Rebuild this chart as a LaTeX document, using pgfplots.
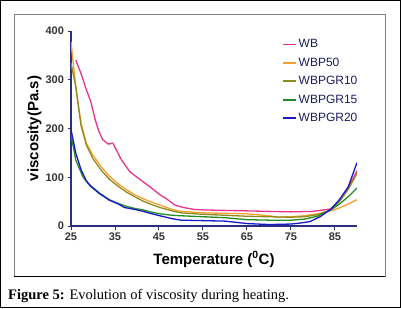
\documentclass[border=0pt]{standalone}
\usepackage{pgfplots}
\pgfplotsset{compat=1.18}
\usepackage{fontspec}
\setmainfont{Liberation Sans}
\newfontfamily\capfont{Liberation Serif}
\definecolor{axcol}{HTML}{2B2F7F}
\definecolor{tickcol}{HTML}{333333}
\definecolor{legcol}{HTML}{1B1B5E}
\definecolor{cWB}{HTML}{E8338C}
\definecolor{cP50}{HTML}{F5A030}
\definecolor{cGR10}{HTML}{8C8C1E}
\definecolor{cGR15}{HTML}{228B22}
\definecolor{cGR20}{HTML}{1818C8}
\begin{document}
\begin{tikzpicture}[x=1pt,y=1pt]
\useasboundingbox (0,0) rectangle (401,308);
\draw[black,line width=1pt] (0.5,0.5) rectangle (400.5,307.5);
\draw[gray,line width=0.8pt] (14,32) rectangle (385,294);
\draw[black,line width=0.8pt] (14,32) -- (385,32);
\node[anchor=base west,inner sep=0pt] at (8,9) {\capfont\fontsize{14.5}{14.5}\selectfont\textbf{Figure 5:} Evolution of viscosity during heating.};
\begin{axis}[
  at={(71pt,82pt)}, anchor=origin,
  scale only axis, width=286pt, height=195pt,
  xmin=25, xmax=90, ymin=0, ymax=400,
  axis x line*=bottom, axis y line*=left,
  axis line style={-, draw=axcol, line width=1.3pt},
  xtick={25,35,...,85}, ytick={0,100,...,400},
  tick style={draw=axcol, line width=1pt},
  tick align=outside, major tick length=3.5pt,
  /pgf/number format/assume math mode=true,
  ticklabel style={font=\bfseries\fontsize{11}{11}\selectfont, text=tickcol},
  xlabel={Temperature (\textsuperscript{0}C)},
  ylabel={viscosity(Pa.s)},
  label style={font=\bfseries\fontsize{15}{15}\selectfont},
  xlabel style={at={(axis description cs:0.5,0)}, anchor=north, yshift=-22pt},
  ylabel style={at={(axis description cs:0,0.5)}, anchor=south, yshift=26pt},
  legend style={at={(axis description cs:0.728,0.975)}, anchor=north west, draw=none, fill=none,
     font=\fontsize{12}{12}\selectfont, text=legcol, row sep=5.6pt,
     nodes={inner sep=1.5pt}},
  legend cell align=left,
  legend image code/.code={\draw[#1,line width=1.8pt] (0pt,0pt) -- (13pt,0pt);},
  every axis plot/.append style={line width=1.3pt, mark=none},
]
\addplot[cWB] coordinates {
(26.1,340)(27.3,312)(28.4,282)(29.5,255)(30.5,218)(31.3,195)(32.2,177)(33.5,168)(34.5,170)(36.5,135)(38.4,111)(40.3,98)(43,80)(45.2,64)(46.5,57)(48.6,43)(50.5,38)(53,34)(55,33)(60,32)(65,31)(70,30)(75,29)(80,30)(84,35)(86,52)(88,78)(90,113)};
\addlegendentry{WB}
\addplot[cP50] coordinates {
(25,378)(25.9,300)(26.5,260)(27.3,210)(28.5,170)(30,145)(32,120)(33.7,102)(35.8,86)(37.7,74)(39.5,64)(41.4,56)(43,50)(45.2,43)(48,34)(50,30)(55,27)(60,26)(65,25)(70,21)(72,18)(75,19)(78,21)(81,25)(84,31)(86,37)(88,45)(90,54)};
\addlegendentry{WBP50}
\addplot[cGR10] coordinates {
(25,334)(26,290)(27.3,205)(28.5,166)(30,138)(32,113)(33.7,96)(35.8,81)(37.7,69)(39.5,60)(41.4,51)(43,45)(45.2,38)(48,31)(50,27)(55,24)(60,22)(65,20)(70,19)(75,18)(78,19)(81,23)(84,33)(86,50)(88,75)(90,108)};
\addlegendentry{WBPGR10}
\addplot[cGR15] coordinates {
(25,187)(26.1,135)(27.7,101)(28.8,88)(30.1,78)(31.4,68)(33.7,54)(35.8,46)(37.7,40)(39.5,36)(41.4,33)(43,29)(45.2,25)(48,22)(50,21)(55,19)(60,17)(65,13)(70,12)(75,12)(78,14)(81,20)(84,33)(86,45)(88,60)(90,78)};
\addlegendentry{WBPGR15}
\addplot[cGR20] coordinates {
(25,198)(26.1,149)(27.3,115)(28.4,94)(29.5,81)(31.4,67)(33.7,53)(35.8,45)(37.1,38)(39.5,34)(41.4,30)(43,26)(45.2,21)(48,15)(50,12)(55,11)(60,10)(65,5)(70,3)(75,4)(77,6)(79.3,9)(81.6,19)(84,34)(86,54)(88,80)(90,130)};
\addlegendentry{WBPGR20}
\end{axis}
\end{tikzpicture}
\end{document}
